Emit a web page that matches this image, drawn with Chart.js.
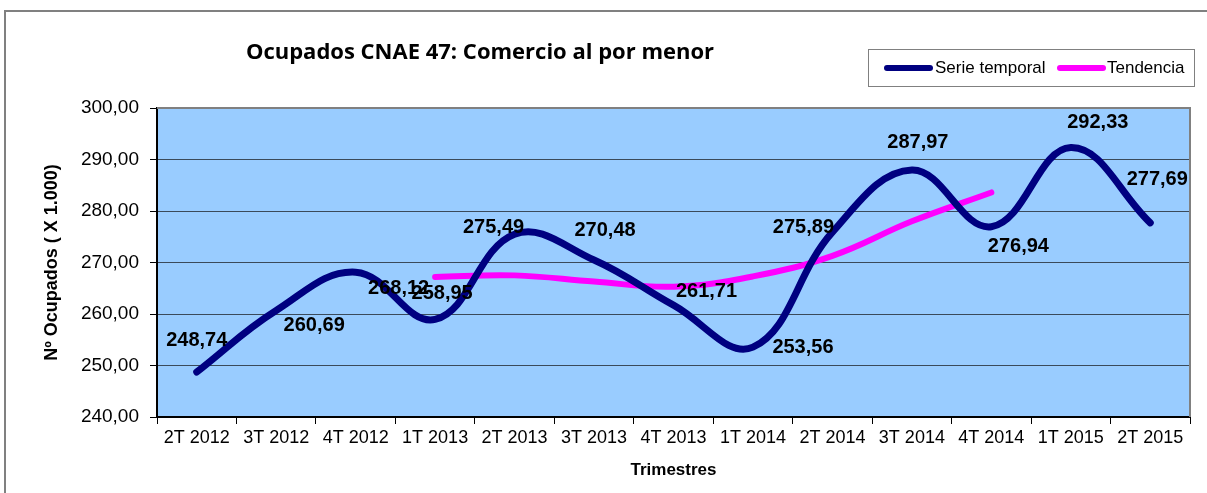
<!DOCTYPE html>
<html>
<head>
<meta charset="utf-8">
<script src="https://cdn.jsdelivr.net/npm/chart.js@4/dist/chart.umd.min.js"></script>
<style>
    html, body { margin: 0; padding: 0; background: #fff; }
    #wrap { position: relative; width: 1207px; height: 493px; }
    #frame { position: absolute; left: 4px; top: 10px; width: 1210px; height: 490px; border: 2px solid #808080; box-sizing: border-box; pointer-events: none; }
</style>
</head>
<body>
<div id="wrap">
    <canvas id="chart" width="1207" height="493"></canvas>
    <div id="frame"></div>
</div>
<script>
const labels = ["2T 2012", "3T 2012", "4T 2012", "1T 2013", "2T 2013", "3T 2013", "4T 2013",
                "1T 2014", "2T 2014", "3T 2014", "4T 2014", "1T 2015", "2T 2015"];
const serie = [248.74, 260.69, 268.12, 258.95, 275.49, 270.48, 261.71, 253.56, 275.89, 287.97, 276.94, 292.33, 277.69];
const tendencia = [null, null, null, 267.2, 267.5, 266.3, 265.3, 267.3, 271.3, 278.0, 283.6, null, null];
// where each value label sits relative to its point (px)
const labelDx = [0, 38, 43, 7, -21, 11, 33, 50, -29, 6, 27, 27, 7];
const labelDy = [-32, 15, 16, -26, -7, -30, -14, 0, -5, -27, 20, -25, -43];

const fmt = v => v.toFixed(2).replace(".", ",");

const plotBg = {
    id: "plotBg",
    beforeDraw(chart) {
        const a = chart.chartArea, ctx = chart.ctx;
        ctx.save();
        ctx.fillStyle = "#99CCFF";
        ctx.fillRect(a.left, a.top, a.right - a.left, a.bottom - a.top);
        ctx.restore();
    },
    afterDatasetsDraw(chart) {
        const a = chart.chartArea, ctx = chart.ctx;
        ctx.save();
        ctx.strokeStyle = "#808080";
        ctx.lineWidth = 2;
        ctx.beginPath();
        ctx.moveTo(a.left, a.top);
        ctx.lineTo(a.right, a.top);
        ctx.lineTo(a.right, a.bottom);
        ctx.stroke();

        // value labels
        ctx.fillStyle = "#000";
        ctx.font = "bold 20px 'Liberation Sans', Arial, sans-serif";
        ctx.textAlign = "center";
        ctx.textBaseline = "middle";
        chart.getDatasetMeta(0).data.forEach((p, i) => {
            ctx.fillText(fmt(serie[i]), p.x + labelDx[i], p.y + labelDy[i]);
        });

        // title
        ctx.font = "bold 22px 'Open Sans', 'Liberation Sans', sans-serif";
        ctx.fillText("Ocupados CNAE 47: Comercio al por menor", 480, 53);

        // legend
        ctx.strokeStyle = "#808080";
        ctx.lineWidth = 1;
        ctx.strokeRect(868.5, 49.5, 326, 37);
        ctx.font = "17px 'Liberation Sans', Arial, sans-serif";
        ctx.textAlign = "left";
        ctx.lineCap = "round";
        ctx.lineWidth = 6;
        ctx.strokeStyle = "#000080";
        ctx.beginPath(); ctx.moveTo(887, 68); ctx.lineTo(930, 68); ctx.stroke();
        ctx.fillText("Serie temporal", 935, 68);
        ctx.strokeStyle = "#FF00FF";
        ctx.beginPath(); ctx.moveTo(1060, 68); ctx.lineTo(1103, 68); ctx.stroke();
        ctx.fillText("Tendencia", 1107, 68);
        ctx.restore();
    }
};

new Chart(document.getElementById("chart"), {
    type: "line",
    data: {
        labels: labels,
        datasets: [
            {
                label: "Serie temporal",
                data: serie,
                borderColor: "#000080",
                borderWidth: 7,
                tension: 0.4,
                pointRadius: 0,
                borderCapStyle: "round",
            },
            {
                label: "Tendencia",
                data: tendencia,
                borderColor: "#FF00FF",
                borderWidth: 6,
                tension: 0.4,
                pointRadius: 0,
                borderCapStyle: "round",
            }
        ]
    },
    options: {
        responsive: false,
        animation: false,
        layout: { padding: { top: 108, right: 17, left: 40, bottom: 0 } },
        plugins: { legend: { display: false }, tooltip: { enabled: false } },
        scales: {
            x: {
                offset: true,
                afterFit: s => { s.height = 76; },
                grid: { display: true, drawOnChartArea: false, offset: true, tickLength: 7, color: "#000", tickColor: "#000" },
                border: { color: "#000", width: 2 },
                ticks: { color: "#000", font: { size: 18, family: "'Liberation Sans', Arial" }, padding: 3, maxRotation: 0, autoSkip: false },
                title: { display: true, text: "Trimestres", color: "#000", font: { size: 17, weight: "bold", family: "'Liberation Sans', Arial" }, padding: { top: 0, bottom: 12 } }
            },
            y: {
                min: 240,
                max: 300,
                afterFit: s => { s.width = 117; },
                grid: { color: "#3a4a5a", lineWidth: 1, tickLength: 7, tickColor: "#000" },
                border: { color: "#000", width: 2 },
                ticks: { stepSize: 10, color: "#000", font: { size: 19, family: "'Liberation Sans', Arial" }, padding: 11, callback: v => fmt(v) },
                title: { display: true, text: "Nº Ocupados ( X 1.000)", color: "#000", font: { size: 18, weight: "bold", family: "'Liberation Sans', Arial" }, padding: { top: 1, bottom: 0 } }
            }
        }
    },
    plugins: [plotBg]
});
</script>
</body>
</html>
